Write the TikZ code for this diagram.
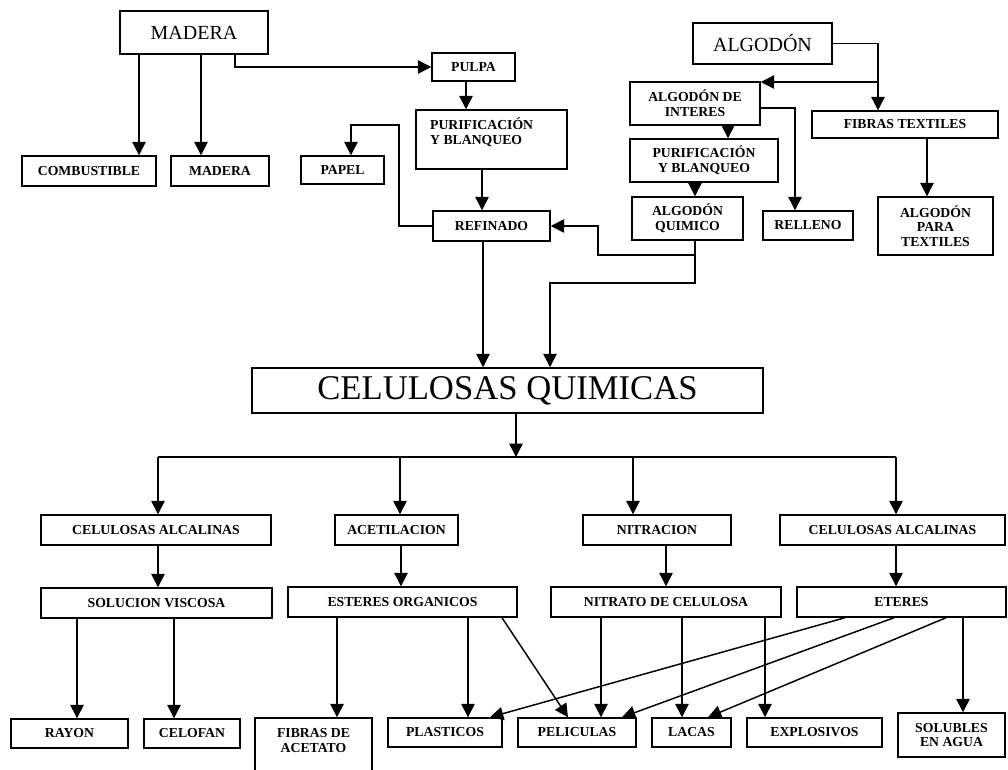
\documentclass[tikz,border=0pt]{standalone}
\usepackage{fontspec}
\setmainfont{Liberation Serif}
\usetikzlibrary{arrows.meta,calc}
\tikzset{
  box/.style={draw,line width=1.1pt,inner sep=2pt,align=center,font=\bfseries\fontsize{10.3}{11}\selectfont},
  bigbox/.style={draw,line width=1.1pt,inner sep=2pt,font=\fontsize{15}{18}\selectfont},
  cqbox/.style={draw,line width=1.1pt,inner sep=2pt,font=\fontsize{26}{28}\selectfont},
  wh/.style 2 args={minimum width=#1*0.75pt,minimum height=#2*0.75pt},
  arr/.style={-{Triangle[length=10pt,width=10pt]},line width=1.1pt},
  ln/.style={line width=1.1pt}
}
\begin{document}
\begin{tikzpicture}[x=0.75pt,y=-0.75pt]
	\clip (0,0) rectangle (1008,770);
	\node[bigbox,wh={148}{43}] (madera) at (194,32.5) {MADERA};
	\node[box,wh={134}{30}] (comb) at (89,171) {COMBUSTIBLE};
	\node[box,wh={98}{30}] (madera2) at (220,171) {MADERA};
	\node[box,wh={83}{28}] (pulpa) at (473.5,67) {PULPA};
	\node[box,wh={151}{59}] (purif1) at (491.5,139.5) {\parbox[c][32pt][t]{92pt}{PURIFICACIÓN\\Y BLANQUEO}};
	\node[box,wh={83}{28}] (papel) at (342.5,170) {PAPEL};
	\node[box,wh={117}{30}] (refin) at (491.5,226) {REFINADO};
	\node[bigbox,wh={139}{41}] (algodon) at (762.5,43.5) {ALGODÓN};
	\node[box,wh={130}{43}] (aint) at (695,103.5) {ALGODÓN DE\\INTERES};
	\node[box,wh={148}{43}] (purif2) at (704,160.5) {PURIFICACIÓN\\Y BLANQUEO};
	\node[box,wh={111}{43}] (aquim) at (687.5,218.5) {ALGODÓN\\QUIMICO};
	\node[box,wh={90}{29}] (relleno) at (808,225.5) {RELLENO};
	\node[box,wh={186}{27}] (fibras) at (905,124.5) {FIBRAS TEXTILES};
	\node[box,wh={115}{58}] (aptex) at (935.5,226) {ALGODÓN\\PARA\\TEXTILES};
	\node[cqbox,wh={511}{45}] (cq) at (507.5,390.5) {CELULOSAS QUIMICAS};
	\node[box,wh={230}{30}] (calc1) at (156,530) {CELULOSAS ALCALINAS};
	\node[box,wh={123}{30}] (acet) at (396.5,530) {ACETILACION};
	\node[box,wh={148}{30}] (nitr) at (657,530) {NITRACION};
	\node[box,wh={225}{30}] (calc2) at (892.5,530) {CELULOSAS ALCALINAS};
	\node[box,wh={231}{30}] (solv) at (156.5,603) {SOLUCION VISCOSA};
	\node[box,wh={229}{30}] (ester) at (402.5,602) {ESTERES ORGANICOS};
	\node[box,wh={230}{30}] (nitrato) at (666,602) {NITRATO DE CELULOSA};
	\node[box,wh={209}{30}] (eter) at (901.5,602) {ETERES};
	\node[box,wh={117}{29}] (rayon) at (69.5,733.5) {RAYON};
	\node[box,wh={96}{29}] (celofan) at (192,733.5) {CELOFAN};
	\node[box,wh={117}{72}] (fibac) at (313.5,754) {\parbox[c][38pt][t]{80pt}{\centering FIBRAS DE\\ACETATO}};
	\node[box,wh={114}{29}] (plast) at (445,732.5) {PLASTICOS};
	\node[box,wh={118}{29}] (pelic) at (577,732.5) {PELICULAS};
	\node[box,wh={79}{29}] (lacas) at (691.5,732.5) {LACAS};
	\node[box,wh={135}{29}] (explo) at (814.5,732.5) {EXPLOSIVOS};
	\node[box,wh={107}{44}] (solub) at (951.5,735) {SOLUBLES\\EN AGUA};
	\coordinate (j1) at (878,82);
	\coordinate (j2) at (695,255);
	\coordinate (j3) at (516,457);
	\draw[arr] (139,0 |- madera.south)--(139,0 |- comb.north);
	\draw[arr] (201,0 |- madera.south)--(201,0 |- madera2.north);
	\draw[arr] (235,0 |- madera.south)|-(pulpa.west);
	\draw[arr] (466,0 |- pulpa.south)--(466,0 |- purif1.north);
	\draw[arr] (482,0 |- purif1.south)--(482,0 |- refin.north);
	\draw[arr] (refin.west)-|(399,125)-|(351,0 |- papel.north);
	\draw[arr] (algodon.east)-|(878,0 |- fibras.north);
	\draw[arr] (j1)--(aint.east |- j1);
	\draw[arr] (728,0 |- aint.south)--(728,0 |- purif2.north);
	\draw[arr] (aint.east |- 0,108)-|(795,0 |- relleno.north);
	\draw[arr] (695,0 |- purif2.south)--(695,0 |- aquim.north);
	\draw[arr] (927,0 |- fibras.south)--(927,0 |- aptex.north);
	\draw[arr] (695,0 |- aquim.south)--(j2)-|(598,0 |- refin.east)--(refin.east);
	\draw[arr] (j2)|-(550,283)--(550,0 |- cq.north);
	\draw[arr] (483,0 |- refin.south)--(483,0 |- cq.north);
	\draw[arr] (516,0 |- cq.south)--(j3);
	\draw[ln] (158,0 |- j3)--(896,0 |- j3);
	\draw[arr] (158,0 |- j3)--(158,0 |- calc1.north);
	\draw[arr] (400,0 |- j3)--(400,0 |- acet.north);
	\draw[arr] (633,0 |- j3)--(633,0 |- nitr.north);
	\draw[arr] (896,0 |- j3)--(896,0 |- calc2.north);
	\draw[arr] (158,0 |- calc1.south)--(158,0 |- solv.north);
	\draw[arr] (401,0 |- acet.south)--(401,0 |- ester.north);
	\draw[arr] (666,0 |- nitr.south)--(666,0 |- nitrato.north);
	\draw[arr] (896,0 |- calc2.south)--(896,0 |- eter.north);
	\draw[arr] (77,0 |- solv.south)--(77,0 |- rayon.north);
	\draw[arr] (174,0 |- solv.south)--(174,0 |- celofan.north);
	\draw[arr] (337,0 |- ester.south)--(337,0 |- fibac.north);
	\draw[arr] (468,0 |- ester.south)--(468,0 |- plast.north);
	\draw[arr] (502,0 |- ester.south)--(568,0 |- pelic.north);
	\draw[arr] (601,0 |- nitrato.south)--(601,0 |- pelic.north);
	\draw[arr] (682,0 |- nitrato.south)--(682,0 |- lacas.north);
	\draw[arr] (765,0 |- nitrato.south)--(765,0 |- explo.north);
	\draw[arr] (845,0 |- eter.south)--(490,0 |- plast.north);
	\draw[arr] (894,0 |- eter.south)--(622,0 |- pelic.north);
	\draw[arr] (946,0 |- eter.south)--(708,0 |- lacas.north);
	\draw[arr] (963,0 |- eter.south)--(963,0 |- solub.north);
\end{tikzpicture}
\end{document}
